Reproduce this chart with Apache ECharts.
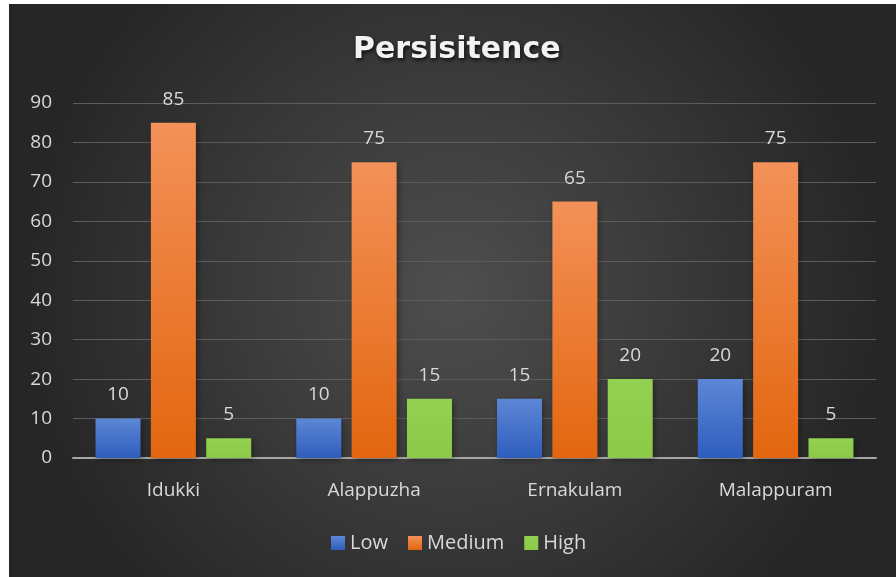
<!DOCTYPE html>
<html>
<head>
<meta charset="utf-8">
<script src="https://cdn.jsdelivr.net/npm/echarts@6/dist/echarts.min.js"></script>
<style>
  html, body { margin: 0; padding: 0; background: #ffffff; }
  #chart { position: absolute; left: 9px; top: 4px; width: 887px; height: 573px; }
</style>
</head>
<body>
<div id="chart"></div>
<script>
// Persistence levels by district
const districts = ['Idukki', 'Alappuzha', 'Ernakulam', 'Malappuram'];
const lowValues = [10, 10, 15, 20];
const mediumValues = [85, 75, 65, 75];
const highValues = [5, 15, 20, 5];

const chart = echarts.init(document.getElementById('chart'));

function grad(top, bottom) {
  return new echarts.graphic.LinearGradient(0, 0, 0, 1, [
    { offset: 0, color: top },
    { offset: 1, color: bottom }
  ]);
}

const labelStyle = {
  show: true,
  position: 'top',
  distance: 14,
  color: '#d9d9d9',
  fontSize: 19,
  fontFamily: 'Open Sans'
};

function barSeries(name, data, top, bottom) {
  return {
    name: name,
    type: 'bar',
    data: data,
    barWidth: 45,
    barGap: '23%',
    label: labelStyle,
    itemStyle: {
      color: grad(top, bottom),
      shadowColor: 'rgba(0,0,0,0.35)',
      shadowBlur: 6,
      shadowOffsetX: 2,
      shadowOffsetY: 2
    }
  };
}

chart.setOption({
  backgroundColor: new echarts.graphic.RadialGradient(0.5, 0.5, 0.75, [
    { offset: 0, color: '#4e4e4e' },
    { offset: 1, color: '#262626' }
  ]),
  title: {
    text: 'Persisitence',
    left: 339,
    top: 26,
    textStyle: {
      color: '#f2f2f2',
      fontSize: 30,
      fontWeight: 'bold',
      fontFamily: 'DejaVu Sans',
      textShadowColor: 'rgba(0,0,0,0.8)',
      textShadowBlur: 4,
      textShadowOffsetX: 1,
      textShadowOffsetY: 2
    }
  },
  legend: {
    bottom: 19,
    left: 317,
    itemWidth: 14,
    itemHeight: 14,
    itemGap: 20,
    icon: 'rect',
    textStyle: { color: '#d9d9d9', fontSize: 20, fontFamily: 'Open Sans' },
    data: ['Low', 'Medium', 'High']
  },
  grid: { left: 64, right: 20, top: 99, bottom: 119, containLabel: false },
  xAxis: {
    type: 'category',
    data: districts,
    axisLine: { lineStyle: { color: '#a6a6a6', width: 2 } },
    axisTick: { show: false },
    axisLabel: { color: '#d9d9d9', fontSize: 19, fontFamily: 'Open Sans', margin: 23 }
  },
  yAxis: {
    type: 'value',
    min: 0,
    max: 90,
    interval: 10,
    axisLine: { show: false },
    axisTick: { show: false },
    axisLabel: { color: '#d9d9d9', fontSize: 19, fontFamily: 'Open Sans', margin: 21 },
    splitLine: { lineStyle: { color: '#5c5c5c', width: 1 } }
  },
  series: [
    barSeries('Low', lowValues, '#5d87d6', '#2e5dbd'),
    barSeries('Medium', mediumValues, '#f39158', '#e3660f'),
    barSeries('High', highValues, '#93d152', '#8cc948')
  ]
});
</script>
</body>
</html>
